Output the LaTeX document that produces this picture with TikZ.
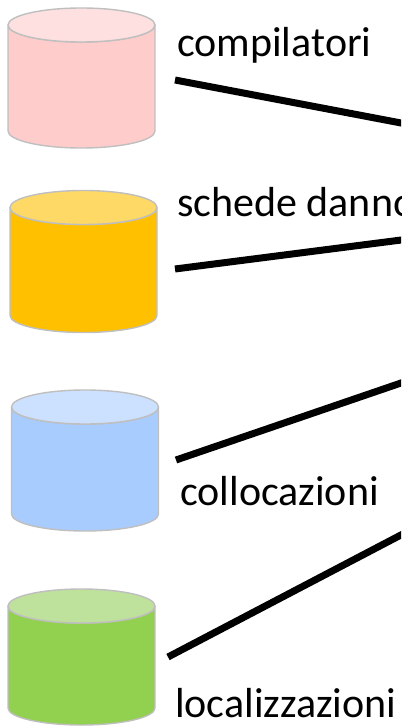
\documentclass[tikz,border=0pt]{standalone}
\usepackage{fontspec}
\setmainfont{Carlito}
\usetikzlibrary{positioning}

\definecolor{dbedge}{HTML}{BFBFBF}
\definecolor{pinkbody}{HTML}{FFCCCC}
\definecolor{pinktop}{HTML}{FFE0E0}
\definecolor{orangebody}{HTML}{FFC000}
\definecolor{orangetop}{HTML}{FFD966}
\definecolor{bluebody}{HTML}{A9CCFF}
\definecolor{bluetop}{HTML}{CCE0FF}
\definecolor{greenbody}{HTML}{92D050}
\definecolor{greentop}{HTML}{BEE19C}

\tikzset{
  dbside/.style={draw=dbedge, line width=1.4pt, line join=round},
  dblabel/.style={anchor=base west, inner sep=0pt, font=\fontsize{42}{50}\selectfont},
  link/.style={line width=7pt}
}

\begin{document}
\begin{tikzpicture}[x=1pt,y=-1pt]
\useasboundingbox (0,0) rectangle (401,727);
\clip (0,0) rectangle (401,727);
% the four archives: name / centre x / centre y / half body / colours
\foreach \n/\cx/\cy/\h/\bc/\tc in {compilatori/81.5/78/53/pinkbody/pinktop,
    schede/83.5/261.5/54/orangebody/orangetop,
    collocazioni/85/460.5/53.5/bluebody/bluetop,
    localizzazioni/81.5/657/51/greenbody/greentop} {
  \coordinate (\n) at (\cx,\cy);
  \begin{scope}[shift={(\n)}]
    \filldraw[dbside, fill=\bc] (-73.5,-\h) -- (-73.5,\h)
      arc[start angle=180, end angle=0, x radius=73.5, y radius=17]
      -- (73.5,-\h) arc[start angle=0, end angle=180, x radius=73.5, y radius=17] -- cycle;
    \filldraw[dbside, fill=\tc] (0,-\h) ellipse[x radius=73.5, y radius=17];
  \end{scope}
}
% labels
\node[dblabel] (lcompilatori) at (177,57) {compilatori};
\node[dblabel] (lschede) at (177,216) {schede danno};
\node[dblabel] (lcollocazioni) at (180,505) {collocazioni};
\node[dblabel] (llocalizzazioni) at (175,717) {localizzazioni};
% links, running off the right edge
\coordinate (a1) at (175,80);   \coordinate (b1) at (420,126.6);
\coordinate (a2) at (175,269);  \coordinate (b2) at (420,237.6);
\coordinate (a3) at (176,460);  \coordinate (b3) at (420,376.5);
\coordinate (a4) at (168,657);  \coordinate (b4) at (420,525);
\draw[link] (a1) -- (b1);
\draw[link] (a2) -- (b2);
\draw[link] (a3) -- (b3);
\draw[link] (a4) -- (b4);
\end{tikzpicture}
\end{document}
